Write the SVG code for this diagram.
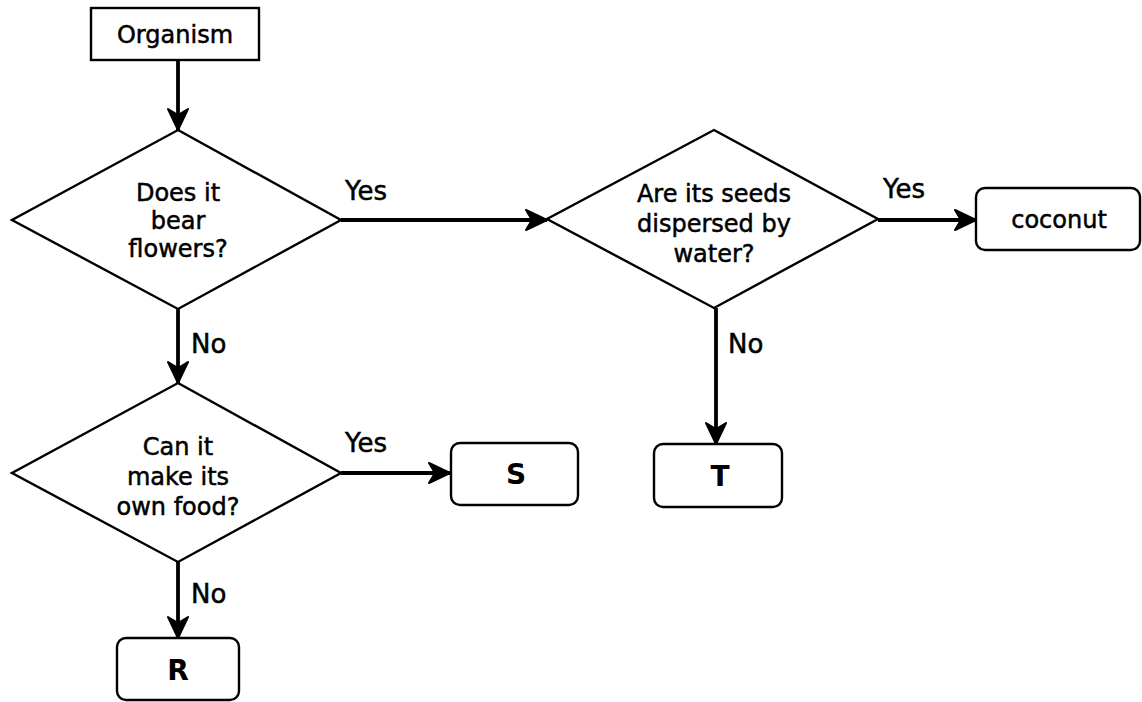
<svg xmlns="http://www.w3.org/2000/svg" width="1142" height="702" viewBox="0 0 1142 702">
<style>
.shape{fill:#fff;stroke:#000;stroke-width:2.4}
.conn{stroke:#000;stroke-width:3.8;fill:none}
.t{font-family:"DejaVu Sans","Liberation Sans",sans-serif;font-size:24px;fill:#000;stroke:#000;stroke-width:0.5;text-anchor:middle}
.lbl{font-family:"DejaVu Sans","Liberation Sans",sans-serif;font-size:26px;fill:#000;stroke:#000;stroke-width:0.5}
.b{font-family:"DejaVu Sans","Liberation Sans",sans-serif;font-size:28px;font-weight:bold;fill:#000;text-anchor:middle}
</style>
<defs>
<marker id="ah" viewBox="0 0 24 22" refX="23" refY="11" markerWidth="24" markerHeight="22" markerUnits="userSpaceOnUse" orient="auto">
<path d="M23,11 L2,1 L8,11 L2,21 Z" fill="#000" stroke="#000" stroke-width="2" stroke-linejoin="round"/>
</marker>
</defs>
<rect width="1142" height="702" fill="#fff"/>
<g id="connectors">
<line class="conn" x1="178" y1="60" x2="178" y2="130" marker-end="url(#ah)"/>
<line class="conn" x1="341" y1="220" x2="547" y2="220" marker-end="url(#ah)"/>
<text class="lbl" x="345" y="200">Yes</text>
<line class="conn" x1="878" y1="220" x2="976" y2="220" marker-end="url(#ah)"/>
<text class="lbl" x="883" y="198">Yes</text>
<line class="conn" x1="178" y1="309" x2="178" y2="383" marker-end="url(#ah)"/>
<text class="lbl" x="191" y="353">No</text>
<line class="conn" x1="341" y1="473" x2="450" y2="473" marker-end="url(#ah)"/>
<text class="lbl" x="345" y="452">Yes</text>
<line class="conn" x1="178" y1="562" x2="178" y2="638" marker-end="url(#ah)"/>
<text class="lbl" x="191" y="603">No</text>
<line class="conn" x1="716" y1="308" x2="716" y2="444" marker-end="url(#ah)"/>
<text class="lbl" x="728" y="353">No</text>
</g>
<g id="organism">
<rect class="shape" x="91" y="8" width="168" height="52"/>
<text class="t" x="175" y="43">Organism</text>
</g>
<g id="q-flowers">
<polygon class="shape" points="178,130 341,220 178,309 12,220"/>
<text class="t" x="178" y="201">Does it</text>
<text class="t" x="178" y="229">bear</text>
<text class="t" x="178" y="257">flowers?</text>
</g>
<g id="q-water">
<polygon class="shape" points="714,130 878,219 714,308 547,219"/>
<text class="t" x="714" y="202">Are its seeds</text>
<text class="t" x="714" y="232">dispersed by</text>
<text class="t" x="714" y="262">water?</text>
</g>
<g id="coconut">
<rect class="shape" x="976" y="188" width="164" height="62" rx="9"/>
<text class="t" x="1059" y="228">coconut</text>
</g>
<g id="q-food">
<polygon class="shape" points="178,383 341,473 178,562 12,473"/>
<text class="t" x="178" y="455">Can it</text>
<text class="t" x="178" y="485">make its</text>
<text class="t" x="178" y="515">own food?</text>
</g>
<g id="S">
<rect class="shape" x="451" y="443" width="127" height="62" rx="9"/>
<text class="b" x="516" y="484">S</text>
</g>
<g id="T">
<rect class="shape" x="654" y="444" width="128" height="63" rx="9"/>
<text class="b" x="720" y="486">T</text>
</g>
<g id="R">
<rect class="shape" x="117" y="638" width="122" height="62" rx="9"/>
<text class="b" x="178" y="680">R</text>
</g>
</svg>
